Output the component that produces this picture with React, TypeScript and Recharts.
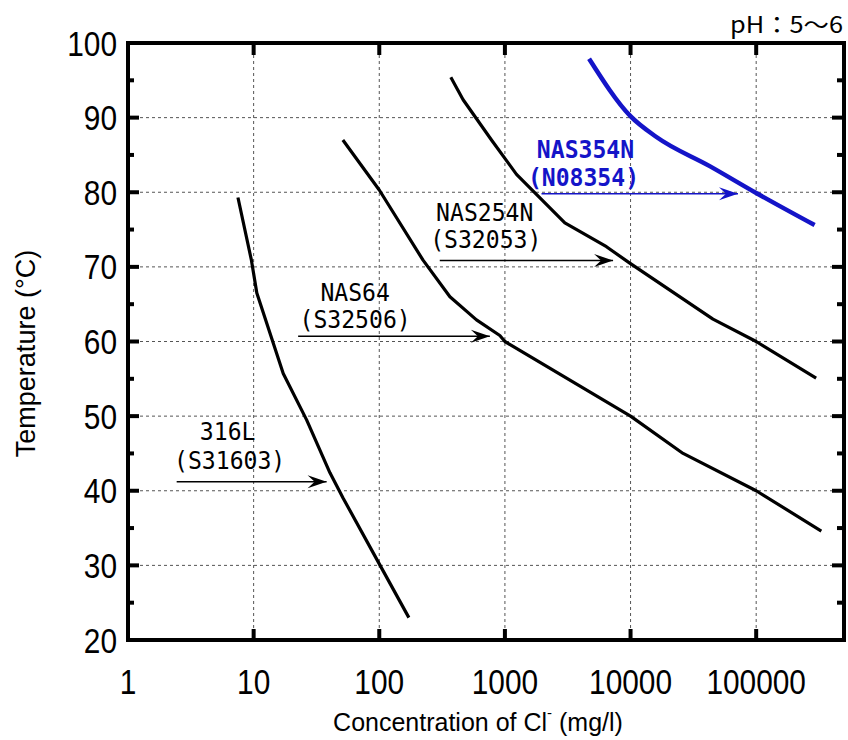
import React from 'react';
import { LineChart, Line, XAxis, YAxis, CartesianGrid } from 'recharts';

// axes
const xTicks = [1, 10, 100, 1000, 10000, 100000];
const yTicks = [20, 25, 30, 35, 40, 45, 50, 55, 60, 65, 70, 75, 80, 85, 90, 95, 100];
const xGrid = [10, 100, 1000, 10000, 100000];
const yGrid = [30, 40, 50, 60, 70, 80, 90];
const xDomain = [1, 500000];
const yDomain = [20, 100];

// critical curves (Cl- mg/l, temperature)
const s316L = [
  { x: 7.5, y: 79.3 },
  { x: 9.6, y: 70.9 },
  { x: 10.6, y: 66.5 },
  { x: 17.2, y: 55.7 },
  { x: 26.4, y: 49.5 },
  { x: 40.5, y: 42.4 },
  { x: 51.6, y: 39.0 },
  { x: 100, y: 30.2 },
  { x: 172, y: 23.0 },
];
const nas64 = [
  { x: 51.3, y: 87.0 },
  { x: 100, y: 80.3 },
  { x: 223, y: 70.9 },
  { x: 365, y: 66.0 },
  { x: 594, y: 62.9 },
  { x: 911, y: 60.8 },
  { x: 1000, y: 60.0 },
  { x: 10000, y: 50.0 },
  { x: 26200, y: 45.0 },
  { x: 100000, y: 40.0 },
  { x: 330000, y: 34.6 },
];
const nas254n = [
  { x: 371, y: 95.4 },
  { x: 465, y: 92.4 },
  { x: 782, y: 87.0 },
  { x: 1237, y: 82.4 },
  { x: 3000, y: 75.9 },
  { x: 6430, y: 72.7 },
  { x: 9860, y: 70.5 },
  { x: 45300, y: 63.0 },
  { x: 100000, y: 60.0 },
  { x: 300000, y: 55.1 },
];
const nas354n = [
  { x: 4677, y: 97.9 },
  { x: 9980, y: 90.2 },
  { x: 16070, y: 87.4 },
  { x: 42660, y: 83.5 },
  { x: 100000, y: 79.9 },
  { x: 291800, y: 75.6 },
];

// label arrows
const arrow316L = [{ x: 2.44, y: 41.2 }, { x: 38.1, y: 41.2 }];
const arrowNas64 = [{ x: 22.6, y: 60.7 }, { x: 759, y: 60.7 }];
const arrowNas254n = [{ x: 303, y: 70.85 }, { x: 7260, y: 70.85 }];
const arrowNas354n = [{ x: 1955, y: 79.8 }, { x: 71650, y: 79.8 }];

const BLUE = '#1414c8';
const tickFont = 'Liberation Sans, Arial, sans-serif';
const labelFont = 'DejaVu Sans Mono, monospace';

// chart box
const W = 848;
const H = 740;
const MARGIN = { top: 43, right: 4, bottom: 0, left: 0 };
const Y_AXIS_W = 128;
const X_AXIS_H = 100;
const PLOT_LEFT = MARGIN.left + Y_AXIS_W;
const PLOT_RIGHT = W - MARGIN.right;
const PLOT_TOP = MARGIN.top;
const PLOT_BOTTOM = H - MARGIN.bottom - X_AXIS_H;

// bottom ticks also draw the matching inward ticks on the top frame edge
const BottomTick = (props: any) => {
  const { x, y, payload } = props;
  const v = payload.value;
  const s = String(v);
  const top = y - (PLOT_BOTTOM - PLOT_TOP);
  return (
    <g>
      {v > 1 && <line x1={x} y1={y} x2={x} y2={y - 11} stroke="#000" strokeWidth={4} />}
      {v > 1 && <line x1={x} y1={top} x2={x} y2={top + 12} stroke="#000" strokeWidth={4} />}
      <text x={x} y={y + 41} textAnchor="middle" dominantBaseline="central" fontFamily={tickFont}
        fontSize={35} textLength={s.length * 16.6} lengthAdjust="spacingAndGlyphs" fill="#000">{s}</text>
    </g>
  );
};

// left ticks also draw the right frame ticks
const LeftTick = (props: any) => {
  const { x, y, payload } = props;
  const v = payload.value;
  const major = v % 10 === 0;
  const s = String(v);
  const right = x + (PLOT_RIGHT - PLOT_LEFT);
  return (
    <g>
      {v > 20 && v < 100 && (
        <g>
          <line x1={x} y1={y} x2={x + (major ? 11 : 6)} y2={y} stroke="#000" strokeWidth={4} />
          <line x1={right} y1={y} x2={right - (major ? 12 : 7)} y2={y} stroke="#000" strokeWidth={4} />
        </g>
      )}
      {major && (
        <text x={x - 11} y={y} textAnchor="end" dominantBaseline="central" fontFamily={tickFont}
          fontSize={35} textLength={s.length * 16.6} lengthAdjust="spacingAndGlyphs" fill="#000">{s}</text>
      )}
    </g>
  );
};

type Lbl = { text: string; dx: number; dy: number };

const arrowDot = (color: string, labels: Lbl[], bold = false) => (props: any) => {
  const { cx, cy, index } = props;
  if (index === 1) {
    return (
      <polygon key={`ah-${index}`}
        points={`${cx},${cy} ${cx - 19},${cy - 6.5} ${cx - 12},${cy} ${cx - 19},${cy + 6.5}`}
        fill={color} />
    );
  }
  return (
    <g key={`al-${index}`}>
      {labels.map((l) => (
        <text key={l.text} x={cx + l.dx} y={cy + l.dy} textAnchor="middle" dominantBaseline="central"
          fontFamily={labelFont} fontSize={25} fontWeight={bold ? 700 : 400} fill={color}
          textLength={l.text.length * 13.9} lengthAdjust="spacingAndGlyphs">{l.text}</text>
      ))}
    </g>
  );
};

const axisLine = { stroke: '#000', strokeWidth: 4, strokeLinecap: 'square' as const };

const App = () => {
  return (
    <div style={{ position: 'absolute', left: 0, top: 0, width: W, height: H, background: '#fff' }}>
      <LineChart width={W} height={H} margin={MARGIN}>
        <CartesianGrid stroke="#555" strokeDasharray="3 3" fill="none"
          horizontalValues={yGrid} verticalValues={xGrid} />
        <XAxis dataKey="x" type="number" scale="log" domain={xDomain} allowDataOverflow
          ticks={xTicks} height={X_AXIS_H} tickSize={0} tickMargin={0} tickLine={false}
          axisLine={axisLine} tick={BottomTick} interval={0}
          label={{
            content: (p: any) => {
              const vb = p.viewBox;
              return (
                <text x={vb.x + vb.width / 2 - 8} y={vb.y + 82} textAnchor="middle" dominantBaseline="central"
                  fontFamily={tickFont} fontSize={25} fill="#000">
                  Concentration of Cl<tspan fontSize={15} dy={-10}>-</tspan><tspan dy={10}> (mg/l)</tspan>
                </text>
              );
            },
          }} />
        <YAxis type="number" domain={yDomain} ticks={yTicks} width={Y_AXIS_W} tickSize={0} tickMargin={0}
          tickLine={false} axisLine={axisLine} tick={LeftTick} interval={0}
          label={{
            content: (p: any) => {
              const vb = p.viewBox;
              const cx = vb.x + 26;
              const cy = vb.y + vb.height / 2 + 12;
              return (
                <g>
                  <text x={cx} y={cy} transform={`rotate(-90 ${cx} ${cy})`} textAnchor="middle"
                    dominantBaseline="central" fontFamily={tickFont} fontSize={27} fill="#000">
                    Temperature (°C)
                  </text>
                  <text x={PLOT_RIGHT - 1} y={vb.y - 20} textAnchor="end" dominantBaseline="central"
                    fontFamily="Noto Sans CJK JP, sans-serif" fontSize={23} fill="#000"
                    textLength={113} lengthAdjust="spacingAndGlyphs">pH：5～6</text>
                </g>
              );
            },
          }} />

        <Line data={arrow316L} dataKey="y" stroke="#000" strokeWidth={1.5} isAnimationActive={false}
          dot={arrowDot('#000', [{ text: '316L', dx: 51, dy: -50 }, { text: '(S31603)', dx: 53, dy: -21 }])} />
        <Line data={arrowNas64} dataKey="y" stroke="#000" strokeWidth={1.5} isAnimationActive={false}
          dot={arrowDot('#000', [{ text: 'NAS64', dx: 57, dy: -44 }, { text: '(S32506)', dx: 57, dy: -17 }])} />
        <Line data={arrowNas254n} dataKey="y" stroke="#000" strokeWidth={1.5} isAnimationActive={false}
          dot={arrowDot('#000', [{ text: 'NAS254N', dx: 45, dy: -48 }, { text: '(S32053)', dx: 46, dy: -21 }])} />
        <Line data={arrowNas354n} dataKey="y" stroke={BLUE} strokeWidth={1.5} isAnimationActive={false}
          dot={arrowDot(BLUE, [{ text: 'NAS354N', dx: 44, dy: -44 }, { text: '(N08354)', dx: 42, dy: -16 }], true)} />

        <Line data={s316L} dataKey="y" type="linear" stroke="#000" strokeWidth={3.2} dot={false}
          strokeLinejoin="round" isAnimationActive={false} />
        <Line data={nas64} dataKey="y" type="linear" stroke="#000" strokeWidth={3.2} dot={false}
          strokeLinejoin="round" isAnimationActive={false} />
        <Line data={nas254n} dataKey="y" type="linear" stroke="#000" strokeWidth={3.2} dot={false}
          strokeLinejoin="round" isAnimationActive={false} />
        <Line data={nas354n} dataKey="y" type="monotone" stroke={BLUE} strokeWidth={4.5} dot={false}
          strokeLinejoin="round" isAnimationActive={false} />
      </LineChart>
      {/* plot frame drawn over the chart */}
      <div style={{
        position: 'absolute',
        left: PLOT_LEFT - 2,
        top: PLOT_TOP - 2,
        width: PLOT_RIGHT - PLOT_LEFT + 4,
        height: PLOT_BOTTOM - PLOT_TOP + 4,
        boxSizing: 'border-box',
        border: '4px solid #000',
        pointerEvents: 'none',
      }} />
    </div>
  );
};

export default App;
